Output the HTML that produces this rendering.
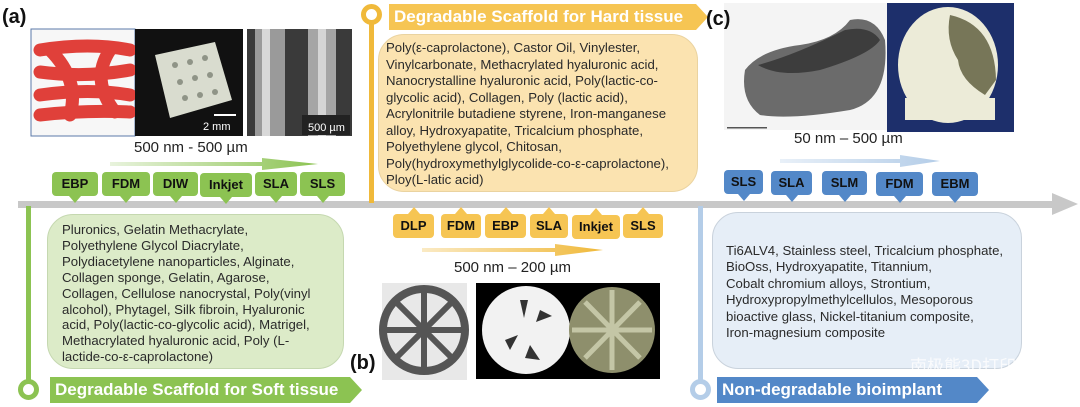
<!DOCTYPE html>
<html><head><meta charset="utf-8"><style>
*{margin:0;padding:0;box-sizing:border-box}
body{width:1080px;height:407px;background:#fff;position:relative;overflow:hidden;font-family:"Liberation Sans",Arial,sans-serif;color:#222}
.a{position:absolute}
.box{position:absolute;border-radius:26px;font-size:13.2px;line-height:16.2px;color:#2a2a2a;white-space:nowrap}
.tag{position:absolute;height:24px;border-radius:4px;font-weight:bold;font-size:13px;line-height:24px;text-align:center;color:#111}
.tag:after{content:"";position:absolute;left:50%;margin-left:-6px;border-left:6px solid transparent;border-right:6px solid transparent}
.g{background:#8cc352}.g:after{top:24px;border-top:7px solid #8cc352}
.o{background:#f6c553}.o:after{top:-7px;border-bottom:7px solid #f6c553}
.b{background:#5388c8}.b:after{top:24px;border-top:7px solid #5388c8}
.ban{position:absolute;height:26px;color:#fff;font-weight:bold;font-size:17px;line-height:26px;padding-left:5px;white-space:nowrap;overflow:visible}
.lbl{position:absolute;font-weight:bold;font-size:20px;color:#111}
.rng{position:absolute;font-size:15px;color:#222;white-space:nowrap}
</style></head><body>
<div class="a" style="left:18px;top:201px;width:1040px;height:7px;background:#c8c8c8"></div>
<div class="a" style="left:1052px;top:193px;border-left:26px solid #c8c8c8;border-top:11px solid transparent;border-bottom:11px solid transparent"></div>
<div class="a" style="left:26px;top:206px;width:5px;height:176px;background:#8cc352"></div>
<div class="a" style="left:18px;top:379px;width:21px;height:21px;border-radius:50%;border:5px solid #8cc352;background:#fff"></div>
<div class="a" style="left:369px;top:20px;width:5px;height:183px;background:#f0b93a"></div>
<div class="a" style="left:361px;top:4px;width:21px;height:21px;border-radius:50%;border:5px solid #f0b93a;background:#fff"></div>
<div class="a" style="left:698px;top:206px;width:5px;height:176px;background:#b4cde8"></div>
<div class="a" style="left:690px;top:379px;width:21px;height:21px;border-radius:50%;border:5px solid #b4cde8;background:#fff"></div>
<div class="ban" style="left:50px;top:377px;width:300px;background:#8cc352">Degradable Scaffold for Soft tissue</div>
<div class="a" style="left:350px;top:377px;border-left:12px solid #8cc352;border-top:13px solid transparent;border-bottom:13px solid transparent"></div>
<div class="ban" style="left:389px;top:4px;width:307px;background:#f6c553">Degradable Scaffold for Hard tissue</div>
<div class="a" style="left:696px;top:4px;border-left:12px solid #f6c553;border-top:13px solid transparent;border-bottom:13px solid transparent"></div>
<div class="ban" style="left:717px;top:377px;width:260px;background:#5388c8">Non-degradable bioimplant</div>
<div class="a" style="left:977px;top:377px;border-left:12px solid #5388c8;border-top:13px solid transparent;border-bottom:13px solid transparent"></div>
<div class="box" style="left:47px;top:214px;width:297px;height:155px;background:#dcebc8;border:1.5px solid #c5d8b0;padding:7px 0 0 14px;line-height:15.9px">Pluronics, Gelatin Methacrylate,<br>Polyethylene Glycol Diacrylate,<br>Polydiacetylene nanoparticles, Alginate,<br>Collagen sponge, Gelatin, Agarose,<br>Collagen, Cellulose nanocrystal, Poly(vinyl<br>alcohol), Phytagel, Silk fibroin, Hyaluronic<br>acid, Poly(lactic-co-glycolic acid), Matrigel,<br>Methacrylated hyaluronic acid, Poly (L-<br>lactide-co-ε-caprolactone)</div>
<div class="box" style="left:378px;top:34px;width:320px;height:158px;background:#fbe3b0;border:1.5px solid #ead3a0;padding:5px 0 0 7px;line-height:16.5px">Poly(ε-caprolactone), Castor Oil, Vinylester,<br>Vinylcarbonate, Methacrylated hyaluronic acid,<br>Nanocrystalline hyaluronic acid, Poly(lactic-co-<br>glycolic acid), Collagen, Poly (lactic acid),<br>Acrylonitrile butadiene styrene, Iron-manganese<br>alloy, Hydroxyapatite, Tricalcium phosphate,<br>Polyethylene glycol, Chitosan,<br>Poly(hydroxymethylglycolide-co-ε-caprolactone),<br>Ploy(L-latic acid)</div>
<div class="box" style="left:712px;top:212px;width:310px;height:157px;background:#e6eef7;border:1.5px solid #c9d2dc;padding:30px 0 0 13px;line-height:16.4px">Ti6ALV4, Stainless steel, Tricalcium phosphate,<br>BioOss, Hydroxyapatite, Titannium,<br>Cobalt chromium alloys, Strontium,<br>Hydroxypropylmethylcellulos, Mesoporous<br>bioactive glass, Nickel-titanium composite,<br>Iron-magnesium composite</div>
<div class="a" style="left:910px;top:352px;font-size:17px;color:#fff;opacity:.8;font-family:'Noto Sans CJK SC',sans-serif">南极熊3D打印</div>
<div class="tag g" style="left:52px;top:172px;width:46px">EBP</div>
<div class="tag g" style="left:102px;top:172px;width:48px">FDM</div>
<div class="tag g" style="left:153px;top:172px;width:45px">DIW</div>
<div class="tag g" style="left:200px;top:173px;width:52px">Inkjet</div>
<div class="tag g" style="left:255px;top:172px;width:42px">SLA</div>
<div class="tag g" style="left:300px;top:172px;width:45px">SLS</div>
<div class="tag o" style="left:393px;top:214px;width:41px">DLP</div>
<div class="tag o" style="left:441px;top:214px;width:40px">FDM</div>
<div class="tag o" style="left:485px;top:214px;width:41px">EBP</div>
<div class="tag o" style="left:530px;top:214px;width:38px">SLA</div>
<div class="tag o" style="left:572px;top:215px;width:48px">Inkjet</div>
<div class="tag o" style="left:623px;top:214px;width:40px">SLS</div>
<div class="tag b" style="left:724px;top:170px;width:39px">SLS</div>
<div class="tag b" style="left:771px;top:171px;width:41px">SLA</div>
<div class="tag b" style="left:822px;top:171px;width:45px">SLM</div>
<div class="tag b" style="left:876px;top:172px;width:47px">FDM</div>
<div class="tag b" style="left:932px;top:172px;width:46px">EBM</div>
<svg class="a" style="left:0;top:0" width="1080" height="407">
<defs><linearGradient id="gg" x1="0" x2="1"><stop offset="0" stop-color="#8cc352" stop-opacity=".2"/><stop offset="1" stop-color="#8cc352"/></linearGradient>
<linearGradient id="og" x1="0" x2="1"><stop offset="0" stop-color="#f0b93a" stop-opacity=".3"/><stop offset="1" stop-color="#f0b93a"/></linearGradient>
<linearGradient id="bg" x1="0" x2="1"><stop offset="0" stop-color="#b4cde8" stop-opacity=".3"/><stop offset="1" stop-color="#b4cde8"/></linearGradient></defs>
<polygon points="110,162 262,162 262,158 318,164 262,170 262,166 110,166" fill="url(#gg)"/>
<polygon points="422,248 555,248 555,244 603,250 555,256 555,252 422,252" fill="url(#og)"/>
<polygon points="780,159 900,159 900,155 940,161 900,167 900,163 780,163" fill="url(#bg)"/>
<rect x="31" y="29" width="104" height="107" fill="#f7f7f7" stroke="#5b7aa8"/>
<g stroke="#e0403a" stroke-width="13" stroke-linecap="round" fill="none">
<path d="M40 50 Q90 42 130 50"/><path d="M40 72 Q85 78 130 70"/><path d="M40 95 Q90 88 130 95"/><path d="M40 115 Q85 110 130 112"/>
<path d="M50 50 Q80 80 70 115"/><path d="M110 50 Q90 80 115 112"/></g>
<rect x="135" y="29" width="108" height="107" fill="#111"/>
<polygon points="155,55 215,42 232,100 170,118" fill="#d9dccf"/>
<g fill="#8f9487"><circle cx="175" cy="65" r="3"/><circle cx="190" cy="62" r="3"/><circle cx="205" cy="58" r="3"/><circle cx="180" cy="82" r="3"/><circle cx="195" cy="78" r="3"/><circle cx="210" cy="75" r="3"/><circle cx="185" cy="98" r="3"/><circle cx="200" cy="95" r="3"/><circle cx="215" cy="92" r="3"/></g>
<text x="203" y="130" fill="#fff" font-size="11" font-family="Liberation Sans">2 mm</text>
<rect x="214" y="114" width="22" height="2" fill="#fff"/>
<rect x="247" y="29" width="105" height="107" fill="#3a3a3a"/>
<rect x="255" y="29" width="30" height="107" fill="#9a9a9a"/><rect x="308" y="29" width="28" height="107" fill="#a5a5a5"/>
<rect x="262" y="29" width="8" height="107" fill="#d8d8d8"/><rect x="318" y="29" width="8" height="107" fill="#d5d5d5"/>
<rect x="302" y="115" width="48" height="20" fill="#222"/>
<text x="308" y="131" fill="#fff" font-size="11" font-family="Liberation Sans">500 µm</text>
<rect x="382" y="283" width="85" height="97" fill="#e8e8e8"/>
<circle cx="424" cy="330" r="41" fill="none" stroke="#555" stroke-width="8"/>
<g stroke="#555" stroke-width="6"><line x1="424" y1="289" x2="424" y2="371"/><line x1="383" y1="330" x2="465" y2="330"/><line x1="395" y1="301" x2="453" y2="359"/><line x1="453" y1="301" x2="395" y2="359"/></g>
<rect x="476" y="283" width="184" height="96" fill="#000"/>
<circle cx="526" cy="330" r="44" fill="#f2f2f2"/>
<g fill="#333"><polygon points="520,300 528,300 524,318"/><polygon points="540,310 552,316 536,322"/><polygon points="505,340 518,335 510,350"/><polygon points="530,345 540,360 525,358"/></g>
<circle cx="612" cy="330" r="43" fill="#8e8f6c"/>
<g stroke="#c4c6a6" stroke-width="5"><line x1="612" y1="290" x2="612" y2="370"/><line x1="572" y1="330" x2="652" y2="330"/><line x1="585" y1="302" x2="640" y2="358"/><line x1="640" y1="302" x2="585" y2="358"/></g>
<rect x="724" y="3" width="163" height="127" fill="#f4f4f4"/>
<path d="M745 70 Q760 50 800 45 Q835 40 850 20 Q875 15 885 40 Q890 100 850 110 Q790 120 760 115 Q740 100 745 70Z" fill="#6b6b6b"/>
<path d="M758 65 Q795 55 845 30 Q870 25 880 40 Q870 55 820 70 Q780 78 758 65Z" fill="#3d3d3d"/>
<rect x="727" y="127" width="40" height="1.5" fill="#555"/>
<rect x="887" y="3" width="127" height="129" fill="#1d2f6b"/>
<ellipse cx="948" cy="65" rx="50" ry="58" fill="#ecebd8"/>
<path d="M950 15 Q995 25 996 80 L985 95 Q960 80 958 60 Q945 40 950 15Z" fill="#777658"/>
<rect x="905" y="98" width="90" height="22" fill="#ecebd8"/>
</svg>
<div class="rng" style="left:134px;top:139px">500 nm - 500 µm</div>
<div class="rng" style="left:454px;top:259px">500 nm – 200 µm</div>
<div class="rng" style="left:794px;top:130px">50 nm – 500 µm</div>
<div class="lbl" style="left:2px;top:6px">(a)</div>
<div class="lbl" style="left:350px;top:352px">(b)</div>
<div class="lbl" style="left:706px;top:8px">(c)</div>
</body></html>
